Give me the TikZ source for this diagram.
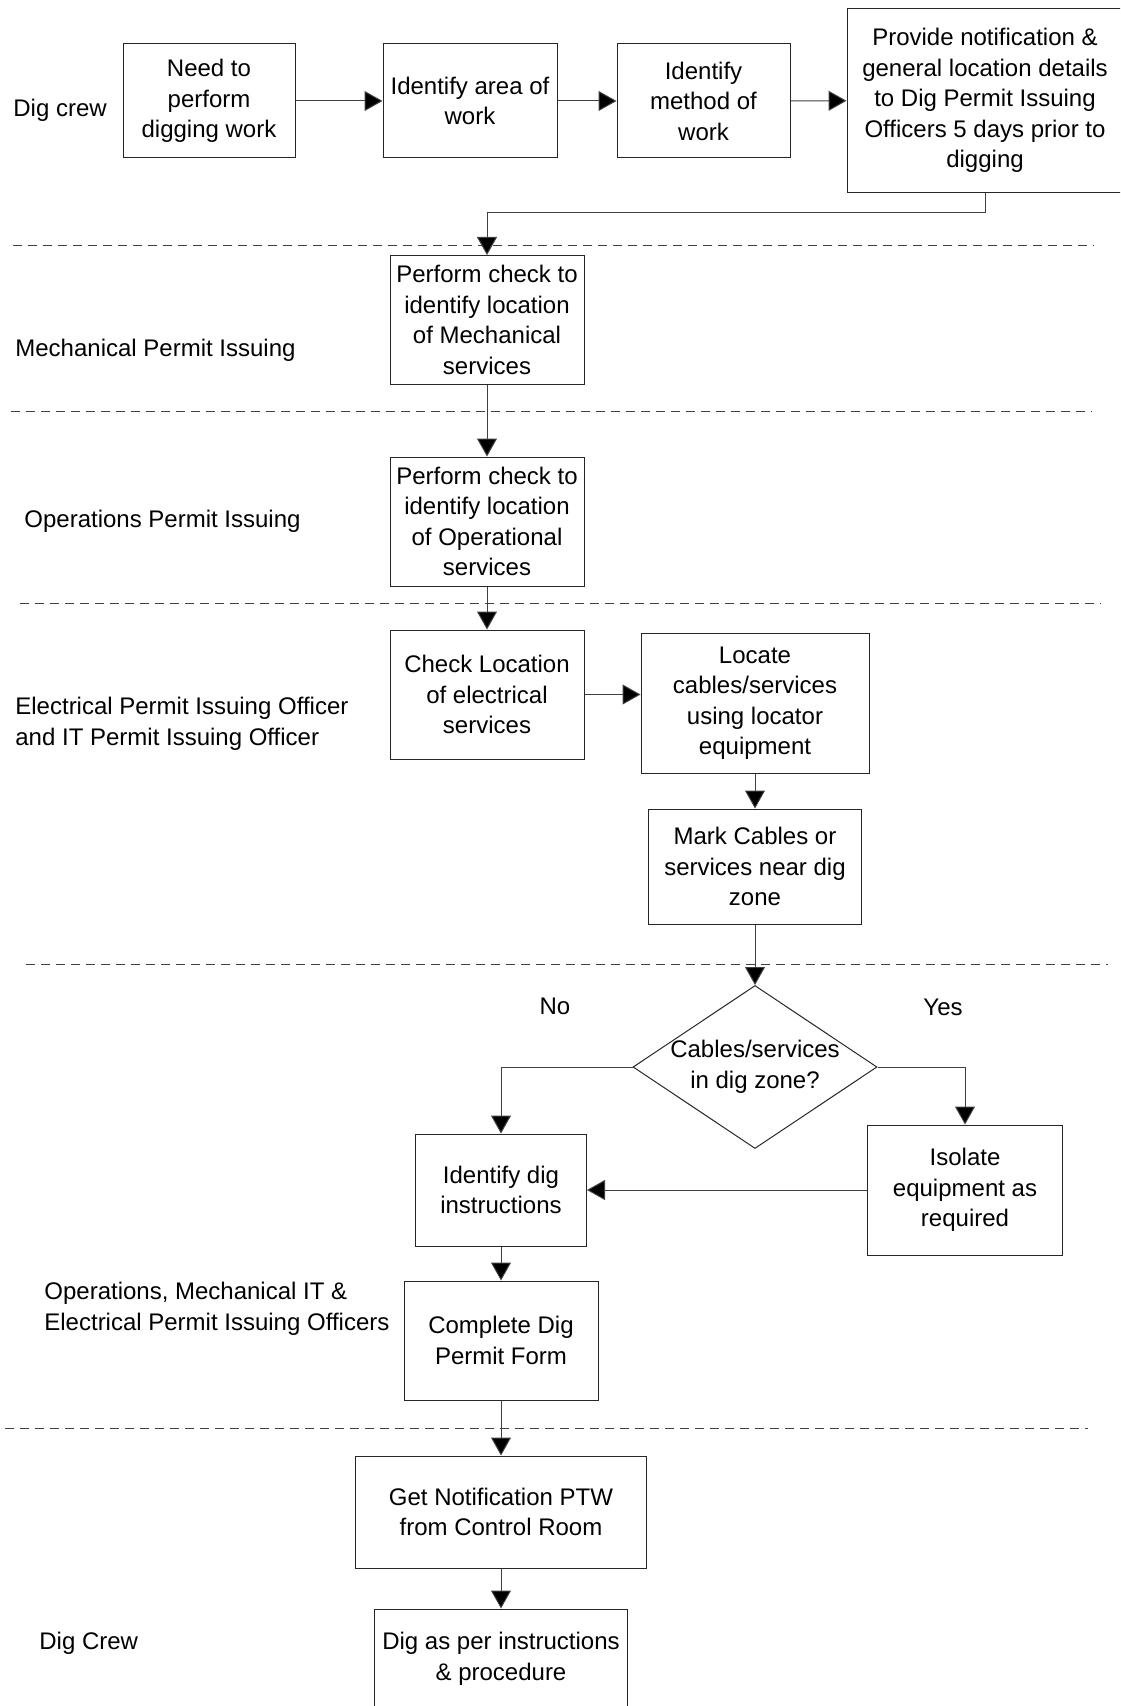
\documentclass[tikz,border=0pt]{standalone}
\usepackage{fontspec}
\setmainfont{Liberation Sans}
\usetikzlibrary{arrows.meta,shapes.geometric}
\newcommand{\flowfont}{\fontsize{12}{15.25}\selectfont}

\begin{document}
\begin{tikzpicture}[x=0.5pt, y=-0.5pt,
  procbox/.style={rectangle, draw=black!85, line width=0.5pt, inner sep=0pt, align=center, font=\flowfont},
  decision/.style={diamond, draw=black!85, line width=0.5pt, inner sep=-1pt, shape aspect=1.5, align=center, font=\flowfont},
  lanelabel/.style={anchor=west, inner sep=0pt, align=left, font=\flowfont},
  lanesep/.style={draw=black!75, line width=0.5pt, dash pattern=on 4.5pt off 3pt},
  flow/.style={draw=black!75, line width=0.5pt, -{Triangle[length=9pt,width=10pt,fill=black]}}]
        \useasboundingbox (0,0) rectangle (1120,1706);
        \clip (0,0) rectangle (1120,1706);
        % Lane labels
        \node[lanelabel] (lbldig) at (13,110) {Dig crew};
        \node[lanelabel] (lblmech) at (15,350) {Mechanical Permit Issuing};
        \node[lanelabel] (lblops) at (24,521) {Operations Permit Issuing};
        \node[lanelabel] (lblelec) at (15,724) {Electrical Permit Issuing Officer\\and IT Permit Issuing Officer};
        \node[lanelabel] (lblall) at (44,1309) {Operations, Mechanical IT \&\\Electrical Permit Issuing Officers};
        \node[lanelabel] (lbldigcrew) at (39,1643) {Dig Crew};
        % Lane separators
        \draw[lanesep] (13,246) -- (1094,246);
        \draw[lanesep] (11,411) -- (1092,411);
        \draw[lanesep] (20,603) -- (1101,603);
        \draw[lanesep] (26,964) -- (1108,964);
        \draw[lanesep] (5,1428) -- (1088,1428);
        % Steps
        \node[procbox, minimum width=86pt, minimum height=57pt] (need) at (209,101) {Need to\\perform\\digging work};
        \node[procbox, minimum width=87pt, minimum height=57pt] (area) at (470,101) {Identify area of\\work};
        \node[procbox, minimum width=86.5pt, minimum height=57pt] (method) at (703.5,101) {Identify\\method of\\work};
        \node[procbox, minimum width=138pt, minimum height=92pt] (notify) at (985,100.6) {Provide notification \&\\general location details\\to Dig Permit Issuing\\Officers 5 days prior to\\digging};
        \node[procbox, minimum width=97pt, minimum height=64.5pt] (mechchk) at (487,320) {Perform check to\\identify location\\of Mechanical\\services};
        \node[procbox, minimum width=97pt, minimum height=64.5pt] (opschk) at (487,521.5) {Perform check to\\identify location\\of Operational\\services};
        \node[procbox, minimum width=97pt, minimum height=64.5pt] (elecchk) at (487,694.5) {Check Location\\of electrical\\services};
        \node[procbox, minimum width=114pt, minimum height=70pt] (locate) at (755,703) {Locate\\cables/services\\using locator\\equipment};
        \node[procbox, minimum width=106.5pt, minimum height=57.5pt] (mark) at (755,866.5) {Mark Cables or\\services near dig\\zone};
        \node[decision, minimum width=122pt, minimum height=81.5pt] (zone) at (755,1067) {Cables/services\\in dig zone?};
        \node[procbox, minimum width=85.5pt, minimum height=56pt] (instr) at (501,1190) {Identify dig\\instructions};
        \node[procbox, minimum width=97.5pt, minimum height=65pt] (isolate) at (965,1190) {Isolate\\equipment as\\required};
        \node[procbox, minimum width=97pt, minimum height=59.5pt] (permit) at (501,1340.5) {Complete Dig\\Permit Form};
        \node[procbox, minimum width=145.5pt, minimum height=56pt] (ptw) at (501,1512) {Get Notification PTW\\from Control Room};
        \node[procbox, minimum width=126.5pt, minimum height=50pt] (dig) at (501,1659) {Dig as per instructions\\\& procedure};
        \node[font=\flowfont] (no) at (555,1006) {No};
        \node[font=\flowfont] (yes) at (943,1007) {Yes};
        % Connectors
        \coordinate (turn) at (985,213);
        \draw[flow] (need) -- (area);
        \draw[flow] (area) -- (method);
        \draw[flow] (method) -- (notify);
        \draw[flow] (notify.south) -- (turn) -| (mechchk.north);
        \draw[flow] (mechchk) -- (opschk);
        \draw[flow] (opschk) -- (elecchk);
        \draw[flow] (elecchk) -- (locate.west |- elecchk);
        \draw[flow] (locate) -- (mark);
        \draw[flow] (mark) -- (zone);
        \draw[flow] (zone.west) -| (instr.north);
        \draw[flow] (zone.east) -| (isolate.north);
        \draw[flow] (isolate) -- (instr);
        \draw[flow] (instr) -- (permit);
        \draw[flow] (permit) -- (ptw);
        \draw[flow] (ptw) -- (dig);
      \end{tikzpicture}
\end{document}
